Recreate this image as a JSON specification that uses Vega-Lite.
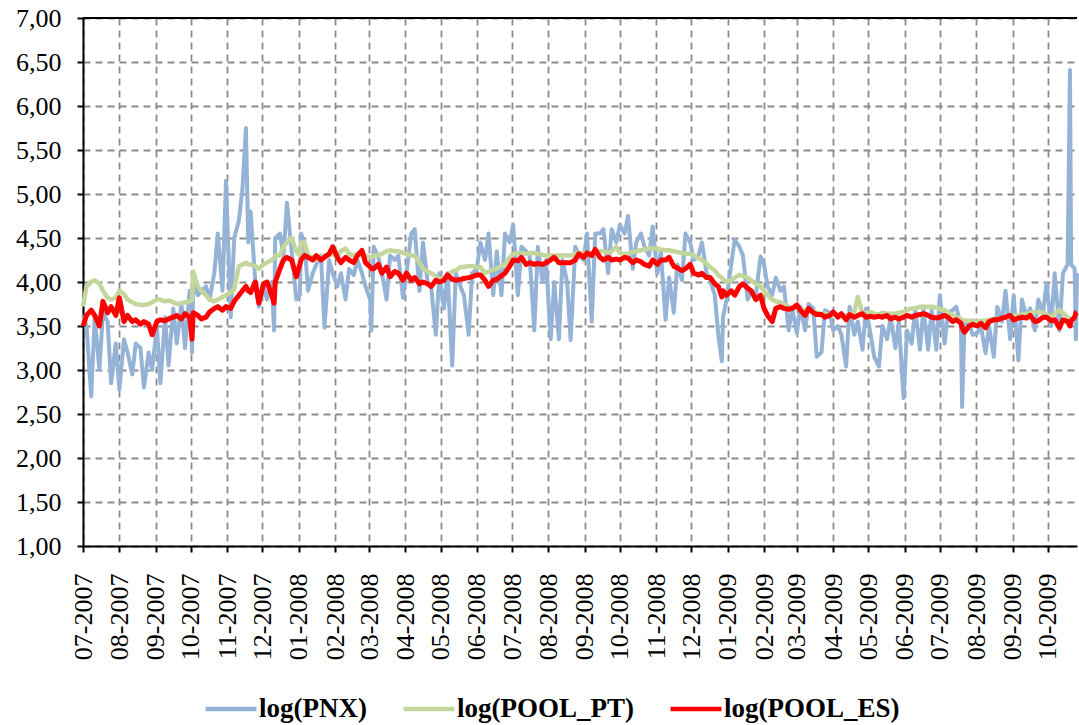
{
  "$schema": "https://vega.github.io/schema/vega-lite/v6.json",
  "width": 994,
  "height": 528,
  "autosize": {"type": "none"},
  "padding": {"left": 83, "top": 18, "right": 2, "bottom": 179},
  "background": "white",
  "config": {
    "font": "Liberation Serif",
    "view": {"stroke": null},
    "axis": {
      "labelFont": "Liberation Serif",
      "labelFontSize": 26,
      "labelColor": "black",
      "domainColor": "black",
      "domainWidth": 2,
      "tickColor": "black",
      "tickWidth": 2,
      "tickSize": 6,
      "gridColor": "#8c8c8c",
      "gridDash": [7, 5],
      "gridWidth": 1.8,
      "title": null
    }
  },
  "data": {
    "values": [
      {"date": "2007-07-01", "PNX": 3.62, "POOL_PT": 3.72, "POOL_ES": 3.50},
      {"date": "2007-07-04", "PNX": 3.50, "POOL_PT": 3.95, "POOL_ES": 3.62},
      {"date": "2007-07-08", "PNX": 2.70, "POOL_PT": 4.00, "POOL_ES": 3.68},
      {"date": "2007-07-11", "PNX": 3.60, "POOL_PT": 4.02, "POOL_ES": 3.62},
      {"date": "2007-07-15", "PNX": 3.00, "POOL_PT": 3.98, "POOL_ES": 3.50},
      {"date": "2007-07-18", "PNX": 3.65, "POOL_PT": 3.90, "POOL_ES": 3.78},
      {"date": "2007-07-22", "PNX": 3.55, "POOL_PT": 3.82, "POOL_ES": 3.65},
      {"date": "2007-07-25", "PNX": 2.85, "POOL_PT": 3.80, "POOL_ES": 3.72},
      {"date": "2007-07-29", "PNX": 3.30, "POOL_PT": 3.82, "POOL_ES": 3.62},
      {"date": "2007-08-01", "PNX": 2.78, "POOL_PT": 3.90, "POOL_ES": 3.82},
      {"date": "2007-08-05", "PNX": 3.35, "POOL_PT": 3.86, "POOL_ES": 3.55},
      {"date": "2007-08-08", "PNX": 3.20, "POOL_PT": 3.80, "POOL_ES": 3.62},
      {"date": "2007-08-12", "PNX": 2.95, "POOL_PT": 3.77, "POOL_ES": 3.55},
      {"date": "2007-08-15", "PNX": 3.30, "POOL_PT": 3.75, "POOL_ES": 3.57},
      {"date": "2007-08-19", "PNX": 3.25, "POOL_PT": 3.74, "POOL_ES": 3.52},
      {"date": "2007-08-22", "PNX": 2.80, "POOL_PT": 3.74, "POOL_ES": 3.55},
      {"date": "2007-08-26", "PNX": 3.20, "POOL_PT": 3.75, "POOL_ES": 3.52},
      {"date": "2007-08-29", "PNX": 3.00, "POOL_PT": 3.77, "POOL_ES": 3.40},
      {"date": "2007-09-02", "PNX": 3.50, "POOL_PT": 3.80, "POOL_ES": 3.55},
      {"date": "2007-09-05", "PNX": 2.85, "POOL_PT": 3.80, "POOL_ES": 3.57},
      {"date": "2007-09-09", "PNX": 3.60, "POOL_PT": 3.78, "POOL_ES": 3.56},
      {"date": "2007-09-12", "PNX": 3.05, "POOL_PT": 3.79, "POOL_ES": 3.58},
      {"date": "2007-09-16", "PNX": 3.70, "POOL_PT": 3.77, "POOL_ES": 3.60},
      {"date": "2007-09-19", "PNX": 3.30, "POOL_PT": 3.75, "POOL_ES": 3.62},
      {"date": "2007-09-23", "PNX": 3.75, "POOL_PT": 3.76, "POOL_ES": 3.58},
      {"date": "2007-09-26", "PNX": 3.25, "POOL_PT": 3.77, "POOL_ES": 3.64},
      {"date": "2007-09-30", "PNX": 3.90, "POOL_PT": 3.78, "POOL_ES": 3.60},
      {"date": "2007-10-02", "PNX": 3.20, "POOL_PT": 3.80, "POOL_ES": 3.35},
      {"date": "2007-10-03", "PNX": 4.00, "POOL_PT": 4.12, "POOL_ES": 3.65},
      {"date": "2007-10-07", "PNX": 3.85, "POOL_PT": 3.95, "POOL_ES": 3.62},
      {"date": "2007-10-10", "PNX": 3.90, "POOL_PT": 3.90, "POOL_ES": 3.58},
      {"date": "2007-10-14", "PNX": 3.95, "POOL_PT": 3.85, "POOL_ES": 3.60},
      {"date": "2007-10-17", "PNX": 3.80, "POOL_PT": 3.80, "POOL_ES": 3.66},
      {"date": "2007-10-21", "PNX": 4.10, "POOL_PT": 3.78, "POOL_ES": 3.70},
      {"date": "2007-10-24", "PNX": 4.55, "POOL_PT": 3.80, "POOL_ES": 3.72},
      {"date": "2007-10-28", "PNX": 3.90, "POOL_PT": 3.83, "POOL_ES": 3.68},
      {"date": "2007-10-31", "PNX": 5.15, "POOL_PT": 3.85, "POOL_ES": 3.72},
      {"date": "2007-11-04", "PNX": 3.60, "POOL_PT": 3.88, "POOL_ES": 3.70},
      {"date": "2007-11-07", "PNX": 4.50, "POOL_PT": 3.92, "POOL_ES": 3.78},
      {"date": "2007-11-11", "PNX": 4.70, "POOL_PT": 4.18, "POOL_ES": 3.85},
      {"date": "2007-11-14", "PNX": 5.05, "POOL_PT": 4.20, "POOL_ES": 3.90},
      {"date": "2007-11-17", "PNX": 5.75, "POOL_PT": 4.22, "POOL_ES": 3.95},
      {"date": "2007-11-19", "PNX": 4.45, "POOL_PT": 4.20, "POOL_ES": 3.90},
      {"date": "2007-11-21", "PNX": 4.80, "POOL_PT": 4.20, "POOL_ES": 3.88},
      {"date": "2007-11-25", "PNX": 4.00, "POOL_PT": 4.18, "POOL_ES": 4.00},
      {"date": "2007-11-28", "PNX": 3.72, "POOL_PT": 4.15, "POOL_ES": 3.76},
      {"date": "2007-12-02", "PNX": 3.95, "POOL_PT": 4.20, "POOL_ES": 3.98},
      {"date": "2007-12-05", "PNX": 3.80, "POOL_PT": 4.22, "POOL_ES": 4.00},
      {"date": "2007-12-09", "PNX": 4.00, "POOL_PT": 4.25, "POOL_ES": 3.85},
      {"date": "2007-12-11", "PNX": 3.45, "POOL_PT": 4.27, "POOL_ES": 3.76},
      {"date": "2007-12-12", "PNX": 4.50, "POOL_PT": 4.30, "POOL_ES": 4.00},
      {"date": "2007-12-16", "PNX": 4.55, "POOL_PT": 4.30, "POOL_ES": 4.15},
      {"date": "2007-12-19", "PNX": 4.30, "POOL_PT": 4.40, "POOL_ES": 4.25},
      {"date": "2007-12-22", "PNX": 4.90, "POOL_PT": 4.45, "POOL_ES": 4.28},
      {"date": "2007-12-26", "PNX": 4.35, "POOL_PT": 4.50, "POOL_ES": 4.25},
      {"date": "2007-12-30", "PNX": 3.80, "POOL_PT": 4.35, "POOL_ES": 4.06},
      {"date": "2008-01-02", "PNX": 3.85, "POOL_PT": 4.30, "POOL_ES": 4.20},
      {"date": "2008-01-03", "PNX": 4.55, "POOL_PT": 4.45, "POOL_ES": 4.25},
      {"date": "2008-01-06", "PNX": 4.45, "POOL_PT": 4.45, "POOL_ES": 4.30},
      {"date": "2008-01-09", "PNX": 3.90, "POOL_PT": 4.30, "POOL_ES": 4.28},
      {"date": "2008-01-13", "PNX": 4.10, "POOL_PT": 4.28, "POOL_ES": 4.25},
      {"date": "2008-01-16", "PNX": 4.20, "POOL_PT": 4.25, "POOL_ES": 4.30},
      {"date": "2008-01-20", "PNX": 4.30, "POOL_PT": 4.28, "POOL_ES": 4.25},
      {"date": "2008-01-23", "PNX": 3.48, "POOL_PT": 4.30, "POOL_ES": 4.28},
      {"date": "2008-01-27", "PNX": 4.25, "POOL_PT": 4.30, "POOL_ES": 4.32},
      {"date": "2008-01-30", "PNX": 4.10, "POOL_PT": 4.32, "POOL_ES": 4.40},
      {"date": "2008-02-03", "PNX": 3.95, "POOL_PT": 4.30, "POOL_ES": 4.28},
      {"date": "2008-02-06", "PNX": 4.10, "POOL_PT": 4.35, "POOL_ES": 4.22},
      {"date": "2008-02-10", "PNX": 3.80, "POOL_PT": 4.38, "POOL_ES": 4.28},
      {"date": "2008-02-13", "PNX": 4.15, "POOL_PT": 4.32, "POOL_ES": 4.25},
      {"date": "2008-02-17", "PNX": 4.08, "POOL_PT": 4.30, "POOL_ES": 4.22},
      {"date": "2008-02-20", "PNX": 4.25, "POOL_PT": 4.32, "POOL_ES": 4.30},
      {"date": "2008-02-24", "PNX": 4.10, "POOL_PT": 4.30, "POOL_ES": 4.36},
      {"date": "2008-02-27", "PNX": 3.95, "POOL_PT": 4.30, "POOL_ES": 4.22},
      {"date": "2008-03-02", "PNX": 3.80, "POOL_PT": 4.28, "POOL_ES": 4.17},
      {"date": "2008-03-03", "PNX": 3.45, "POOL_PT": 4.28, "POOL_ES": 4.15},
      {"date": "2008-03-05", "PNX": 4.40, "POOL_PT": 4.30, "POOL_ES": 4.15},
      {"date": "2008-03-09", "PNX": 4.28, "POOL_PT": 4.30, "POOL_ES": 4.20},
      {"date": "2008-03-12", "PNX": 4.10, "POOL_PT": 4.32, "POOL_ES": 4.10},
      {"date": "2008-03-16", "PNX": 3.80, "POOL_PT": 4.35, "POOL_ES": 4.17},
      {"date": "2008-03-19", "PNX": 4.30, "POOL_PT": 4.36, "POOL_ES": 4.06},
      {"date": "2008-03-23", "PNX": 4.25, "POOL_PT": 4.35, "POOL_ES": 4.12},
      {"date": "2008-03-26", "PNX": 4.30, "POOL_PT": 4.35, "POOL_ES": 4.10},
      {"date": "2008-03-30", "PNX": 3.82, "POOL_PT": 4.33, "POOL_ES": 4.02},
      {"date": "2008-04-02", "PNX": 4.10, "POOL_PT": 4.32, "POOL_ES": 4.10},
      {"date": "2008-04-06", "PNX": 4.55, "POOL_PT": 4.30, "POOL_ES": 4.02},
      {"date": "2008-04-09", "PNX": 4.60, "POOL_PT": 4.30, "POOL_ES": 4.05},
      {"date": "2008-04-13", "PNX": 3.90, "POOL_PT": 4.22, "POOL_ES": 3.98},
      {"date": "2008-04-16", "PNX": 4.45, "POOL_PT": 4.15, "POOL_ES": 4.00},
      {"date": "2008-04-20", "PNX": 4.00, "POOL_PT": 4.12, "POOL_ES": 3.98},
      {"date": "2008-04-23", "PNX": 3.95, "POOL_PT": 4.10, "POOL_ES": 3.95},
      {"date": "2008-04-27", "PNX": 3.40, "POOL_PT": 4.07, "POOL_ES": 4.02},
      {"date": "2008-04-30", "PNX": 4.10, "POOL_PT": 4.02, "POOL_ES": 4.00},
      {"date": "2008-05-04", "PNX": 3.70, "POOL_PT": 4.05, "POOL_ES": 4.02},
      {"date": "2008-05-07", "PNX": 4.10, "POOL_PT": 4.08, "POOL_ES": 4.08},
      {"date": "2008-05-11", "PNX": 3.05, "POOL_PT": 4.12, "POOL_ES": 4.03},
      {"date": "2008-05-14", "PNX": 4.10, "POOL_PT": 4.13, "POOL_ES": 4.02},
      {"date": "2008-05-18", "PNX": 3.95, "POOL_PT": 4.17, "POOL_ES": 4.03},
      {"date": "2008-05-21", "PNX": 3.85, "POOL_PT": 4.17, "POOL_ES": 4.04},
      {"date": "2008-05-25", "PNX": 3.40, "POOL_PT": 4.18, "POOL_ES": 4.05},
      {"date": "2008-05-28", "PNX": 4.10, "POOL_PT": 4.18, "POOL_ES": 4.06},
      {"date": "2008-06-01", "PNX": 4.15, "POOL_PT": 4.17, "POOL_ES": 4.08},
      {"date": "2008-06-04", "PNX": 4.45, "POOL_PT": 4.17, "POOL_ES": 4.08},
      {"date": "2008-06-08", "PNX": 4.25, "POOL_PT": 4.10, "POOL_ES": 4.02},
      {"date": "2008-06-11", "PNX": 4.55, "POOL_PT": 4.12, "POOL_ES": 3.95},
      {"date": "2008-06-15", "PNX": 3.85, "POOL_PT": 4.14, "POOL_ES": 4.02},
      {"date": "2008-06-18", "PNX": 4.35, "POOL_PT": 4.15, "POOL_ES": 4.03},
      {"date": "2008-06-22", "PNX": 3.85, "POOL_PT": 4.18, "POOL_ES": 4.07},
      {"date": "2008-06-25", "PNX": 4.55, "POOL_PT": 4.20, "POOL_ES": 4.10},
      {"date": "2008-06-29", "PNX": 4.45, "POOL_PT": 4.28, "POOL_ES": 4.18},
      {"date": "2008-07-02", "PNX": 4.65, "POOL_PT": 4.32, "POOL_ES": 4.25},
      {"date": "2008-07-06", "PNX": 3.85, "POOL_PT": 4.33, "POOL_ES": 4.24},
      {"date": "2008-07-09", "PNX": 4.40, "POOL_PT": 4.33, "POOL_ES": 4.28},
      {"date": "2008-07-13", "PNX": 4.35, "POOL_PT": 4.32, "POOL_ES": 4.20},
      {"date": "2008-07-16", "PNX": 4.30, "POOL_PT": 4.33, "POOL_ES": 4.22},
      {"date": "2008-07-20", "PNX": 3.45, "POOL_PT": 4.33, "POOL_ES": 4.20},
      {"date": "2008-07-23", "PNX": 4.40, "POOL_PT": 4.32, "POOL_ES": 4.21},
      {"date": "2008-07-27", "PNX": 4.00, "POOL_PT": 4.31, "POOL_ES": 4.20},
      {"date": "2008-07-30", "PNX": 4.25, "POOL_PT": 4.30, "POOL_ES": 4.22},
      {"date": "2008-08-03", "PNX": 3.35, "POOL_PT": 4.30, "POOL_ES": 4.25},
      {"date": "2008-08-06", "PNX": 4.00, "POOL_PT": 4.30, "POOL_ES": 4.28},
      {"date": "2008-08-10", "PNX": 3.35, "POOL_PT": 4.30, "POOL_ES": 4.22},
      {"date": "2008-08-13", "PNX": 4.25, "POOL_PT": 4.30, "POOL_ES": 4.22},
      {"date": "2008-08-17", "PNX": 4.00, "POOL_PT": 4.30, "POOL_ES": 4.22},
      {"date": "2008-08-20", "PNX": 3.34, "POOL_PT": 4.30, "POOL_ES": 4.22},
      {"date": "2008-08-24", "PNX": 4.40, "POOL_PT": 4.32, "POOL_ES": 4.25},
      {"date": "2008-08-27", "PNX": 4.30, "POOL_PT": 4.33, "POOL_ES": 4.32},
      {"date": "2008-08-31", "PNX": 4.25, "POOL_PT": 4.33, "POOL_ES": 4.28},
      {"date": "2008-09-03", "PNX": 4.55, "POOL_PT": 4.32, "POOL_ES": 4.33},
      {"date": "2008-09-07", "PNX": 3.55, "POOL_PT": 4.33, "POOL_ES": 4.30},
      {"date": "2008-09-10", "PNX": 4.55, "POOL_PT": 4.33, "POOL_ES": 4.37},
      {"date": "2008-09-14", "PNX": 4.55, "POOL_PT": 4.35, "POOL_ES": 4.28},
      {"date": "2008-09-17", "PNX": 4.60, "POOL_PT": 4.35, "POOL_ES": 4.25},
      {"date": "2008-09-21", "PNX": 4.10, "POOL_PT": 4.33, "POOL_ES": 4.28},
      {"date": "2008-09-24", "PNX": 4.60, "POOL_PT": 4.35, "POOL_ES": 4.25},
      {"date": "2008-09-28", "PNX": 4.45, "POOL_PT": 4.40, "POOL_ES": 4.26},
      {"date": "2008-10-01", "PNX": 4.65, "POOL_PT": 4.33, "POOL_ES": 4.25},
      {"date": "2008-10-05", "PNX": 4.55, "POOL_PT": 4.32, "POOL_ES": 4.28},
      {"date": "2008-10-08", "PNX": 4.75, "POOL_PT": 4.32, "POOL_ES": 4.27},
      {"date": "2008-10-12", "PNX": 4.15, "POOL_PT": 4.34, "POOL_ES": 4.22},
      {"date": "2008-10-15", "PNX": 4.45, "POOL_PT": 4.35, "POOL_ES": 4.25},
      {"date": "2008-10-19", "PNX": 4.55, "POOL_PT": 4.36, "POOL_ES": 4.23},
      {"date": "2008-10-22", "PNX": 4.40, "POOL_PT": 4.37, "POOL_ES": 4.20},
      {"date": "2008-10-26", "PNX": 4.30, "POOL_PT": 4.38, "POOL_ES": 4.18},
      {"date": "2008-10-29", "PNX": 4.63, "POOL_PT": 4.38, "POOL_ES": 4.25},
      {"date": "2008-11-02", "PNX": 4.10, "POOL_PT": 4.38, "POOL_ES": 4.20},
      {"date": "2008-11-05", "PNX": 4.35, "POOL_PT": 4.37, "POOL_ES": 4.25},
      {"date": "2008-11-09", "PNX": 3.57, "POOL_PT": 4.36, "POOL_ES": 4.25},
      {"date": "2008-11-12", "PNX": 4.05, "POOL_PT": 4.36, "POOL_ES": 4.28},
      {"date": "2008-11-16", "PNX": 3.65, "POOL_PT": 4.35, "POOL_ES": 4.18},
      {"date": "2008-11-19", "PNX": 4.20, "POOL_PT": 4.34, "POOL_ES": 4.16},
      {"date": "2008-11-23", "PNX": 4.02, "POOL_PT": 4.33, "POOL_ES": 4.13},
      {"date": "2008-11-26", "PNX": 4.55, "POOL_PT": 4.32, "POOL_ES": 4.15},
      {"date": "2008-11-30", "PNX": 4.45, "POOL_PT": 4.32, "POOL_ES": 4.20},
      {"date": "2008-12-03", "PNX": 4.25, "POOL_PT": 4.30, "POOL_ES": 4.10},
      {"date": "2008-12-07", "PNX": 4.30, "POOL_PT": 4.27, "POOL_ES": 4.08},
      {"date": "2008-12-10", "PNX": 4.45, "POOL_PT": 4.25, "POOL_ES": 4.10},
      {"date": "2008-12-14", "PNX": 4.10, "POOL_PT": 4.21, "POOL_ES": 4.05},
      {"date": "2008-12-17", "PNX": 4.02, "POOL_PT": 4.17, "POOL_ES": 4.05},
      {"date": "2008-12-21", "PNX": 3.85, "POOL_PT": 4.13, "POOL_ES": 3.98},
      {"date": "2008-12-24", "PNX": 3.40, "POOL_PT": 4.08, "POOL_ES": 3.95},
      {"date": "2008-12-27", "PNX": 3.10, "POOL_PT": 4.05, "POOL_ES": 3.83},
      {"date": "2008-12-28", "PNX": 3.60, "POOL_PT": 4.03, "POOL_ES": 3.90},
      {"date": "2008-12-31", "PNX": 3.80, "POOL_PT": 4.00, "POOL_ES": 3.85},
      {"date": "2009-01-04", "PNX": 4.20, "POOL_PT": 4.02, "POOL_ES": 3.90},
      {"date": "2009-01-07", "PNX": 4.48, "POOL_PT": 4.05, "POOL_ES": 3.85},
      {"date": "2009-01-11", "PNX": 4.40, "POOL_PT": 4.08, "POOL_ES": 3.95},
      {"date": "2009-01-14", "PNX": 4.30, "POOL_PT": 4.07, "POOL_ES": 3.98},
      {"date": "2009-01-18", "PNX": 3.80, "POOL_PT": 4.05, "POOL_ES": 3.93},
      {"date": "2009-01-21", "PNX": 3.90, "POOL_PT": 4.02, "POOL_ES": 3.90},
      {"date": "2009-01-25", "PNX": 3.85, "POOL_PT": 3.98, "POOL_ES": 3.80},
      {"date": "2009-01-29", "PNX": 4.29, "POOL_PT": 3.95, "POOL_ES": 3.85},
      {"date": "2009-02-01", "PNX": 4.20, "POOL_PT": 3.90, "POOL_ES": 3.70},
      {"date": "2009-02-04", "PNX": 3.95, "POOL_PT": 3.85, "POOL_ES": 3.62},
      {"date": "2009-02-08", "PNX": 3.85, "POOL_PT": 3.80, "POOL_ES": 3.55},
      {"date": "2009-02-11", "PNX": 4.05, "POOL_PT": 3.78, "POOL_ES": 3.70},
      {"date": "2009-02-15", "PNX": 3.90, "POOL_PT": 3.77, "POOL_ES": 3.72},
      {"date": "2009-02-18", "PNX": 3.95, "POOL_PT": 3.75, "POOL_ES": 3.70},
      {"date": "2009-02-22", "PNX": 3.45, "POOL_PT": 3.72, "POOL_ES": 3.69},
      {"date": "2009-02-25", "PNX": 3.70, "POOL_PT": 3.71, "POOL_ES": 3.70},
      {"date": "2009-03-01", "PNX": 3.42, "POOL_PT": 3.70, "POOL_ES": 3.74},
      {"date": "2009-03-04", "PNX": 3.72, "POOL_PT": 3.69, "POOL_ES": 3.68},
      {"date": "2009-03-08", "PNX": 3.45, "POOL_PT": 3.68, "POOL_ES": 3.62},
      {"date": "2009-03-11", "PNX": 3.75, "POOL_PT": 3.67, "POOL_ES": 3.70},
      {"date": "2009-03-15", "PNX": 3.70, "POOL_PT": 3.66, "POOL_ES": 3.65},
      {"date": "2009-03-18", "PNX": 3.15, "POOL_PT": 3.65, "POOL_ES": 3.63},
      {"date": "2009-03-22", "PNX": 3.20, "POOL_PT": 3.64, "POOL_ES": 3.63},
      {"date": "2009-03-25", "PNX": 3.68, "POOL_PT": 3.64, "POOL_ES": 3.60},
      {"date": "2009-03-29", "PNX": 3.65, "POOL_PT": 3.62, "POOL_ES": 3.62},
      {"date": "2009-04-01", "PNX": 3.45, "POOL_PT": 3.63, "POOL_ES": 3.66},
      {"date": "2009-04-05", "PNX": 3.50, "POOL_PT": 3.63, "POOL_ES": 3.60},
      {"date": "2009-04-08", "PNX": 3.40, "POOL_PT": 3.62, "POOL_ES": 3.64},
      {"date": "2009-04-12", "PNX": 3.04, "POOL_PT": 3.62, "POOL_ES": 3.57},
      {"date": "2009-04-15", "PNX": 3.72, "POOL_PT": 3.63, "POOL_ES": 3.63},
      {"date": "2009-04-19", "PNX": 3.40, "POOL_PT": 3.66, "POOL_ES": 3.60},
      {"date": "2009-04-22", "PNX": 3.55, "POOL_PT": 3.83, "POOL_ES": 3.62},
      {"date": "2009-04-26", "PNX": 3.23, "POOL_PT": 3.64, "POOL_ES": 3.64},
      {"date": "2009-04-29", "PNX": 3.70, "POOL_PT": 3.65, "POOL_ES": 3.60},
      {"date": "2009-05-03", "PNX": 3.40, "POOL_PT": 3.66, "POOL_ES": 3.61},
      {"date": "2009-05-06", "PNX": 3.15, "POOL_PT": 3.64, "POOL_ES": 3.60},
      {"date": "2009-05-10", "PNX": 3.04, "POOL_PT": 3.63, "POOL_ES": 3.61},
      {"date": "2009-05-13", "PNX": 3.50, "POOL_PT": 3.65, "POOL_ES": 3.60},
      {"date": "2009-05-17", "PNX": 3.35, "POOL_PT": 3.64, "POOL_ES": 3.62},
      {"date": "2009-05-20", "PNX": 3.60, "POOL_PT": 3.64, "POOL_ES": 3.58},
      {"date": "2009-05-24", "PNX": 3.25, "POOL_PT": 3.64, "POOL_ES": 3.60},
      {"date": "2009-05-27", "PNX": 3.55, "POOL_PT": 3.65, "POOL_ES": 3.58},
      {"date": "2009-05-31", "PNX": 2.68, "POOL_PT": 3.66, "POOL_ES": 3.60},
      {"date": "2009-06-03", "PNX": 3.45, "POOL_PT": 3.68, "POOL_ES": 3.62},
      {"date": "2009-06-07", "PNX": 3.30, "POOL_PT": 3.70, "POOL_ES": 3.60},
      {"date": "2009-06-10", "PNX": 3.70, "POOL_PT": 3.70, "POOL_ES": 3.62},
      {"date": "2009-06-14", "PNX": 3.23, "POOL_PT": 3.72, "POOL_ES": 3.63},
      {"date": "2009-06-17", "PNX": 3.70, "POOL_PT": 3.72, "POOL_ES": 3.64},
      {"date": "2009-06-21", "PNX": 3.23, "POOL_PT": 3.72, "POOL_ES": 3.62},
      {"date": "2009-06-24", "PNX": 3.68, "POOL_PT": 3.72, "POOL_ES": 3.60},
      {"date": "2009-06-28", "PNX": 3.23, "POOL_PT": 3.71, "POOL_ES": 3.59},
      {"date": "2009-07-01", "PNX": 3.85, "POOL_PT": 3.69, "POOL_ES": 3.60},
      {"date": "2009-07-05", "PNX": 3.30, "POOL_PT": 3.68, "POOL_ES": 3.62},
      {"date": "2009-07-08", "PNX": 3.65, "POOL_PT": 3.65, "POOL_ES": 3.60},
      {"date": "2009-07-12", "PNX": 3.68, "POOL_PT": 3.63, "POOL_ES": 3.55},
      {"date": "2009-07-15", "PNX": 3.72, "POOL_PT": 3.60, "POOL_ES": 3.57},
      {"date": "2009-07-19", "PNX": 3.50, "POOL_PT": 3.58, "POOL_ES": 3.53},
      {"date": "2009-07-20", "PNX": 2.58, "POOL_PT": 3.57, "POOL_ES": 3.48},
      {"date": "2009-07-22", "PNX": 3.52, "POOL_PT": 3.56, "POOL_ES": 3.43},
      {"date": "2009-07-26", "PNX": 3.52, "POOL_PT": 3.56, "POOL_ES": 3.50},
      {"date": "2009-07-29", "PNX": 3.40, "POOL_PT": 3.56, "POOL_ES": 3.52},
      {"date": "2009-08-02", "PNX": 3.42, "POOL_PT": 3.55, "POOL_ES": 3.50},
      {"date": "2009-08-05", "PNX": 3.50, "POOL_PT": 3.56, "POOL_ES": 3.53},
      {"date": "2009-08-09", "PNX": 3.19, "POOL_PT": 3.56, "POOL_ES": 3.48},
      {"date": "2009-08-12", "PNX": 3.50, "POOL_PT": 3.57, "POOL_ES": 3.55},
      {"date": "2009-08-16", "PNX": 3.15, "POOL_PT": 3.58, "POOL_ES": 3.57},
      {"date": "2009-08-19", "PNX": 3.72, "POOL_PT": 3.58, "POOL_ES": 3.57},
      {"date": "2009-08-23", "PNX": 3.55, "POOL_PT": 3.59, "POOL_ES": 3.59},
      {"date": "2009-08-26", "PNX": 3.90, "POOL_PT": 3.60, "POOL_ES": 3.60},
      {"date": "2009-08-30", "PNX": 3.35, "POOL_PT": 3.60, "POOL_ES": 3.62},
      {"date": "2009-09-02", "PNX": 3.85, "POOL_PT": 3.62, "POOL_ES": 3.57},
      {"date": "2009-09-06", "PNX": 3.11, "POOL_PT": 3.62, "POOL_ES": 3.59},
      {"date": "2009-09-09", "PNX": 3.80, "POOL_PT": 3.63, "POOL_ES": 3.60},
      {"date": "2009-09-13", "PNX": 3.60, "POOL_PT": 3.64, "POOL_ES": 3.59},
      {"date": "2009-09-16", "PNX": 3.70, "POOL_PT": 3.65, "POOL_ES": 3.62},
      {"date": "2009-09-20", "PNX": 3.45, "POOL_PT": 3.66, "POOL_ES": 3.55},
      {"date": "2009-09-23", "PNX": 3.80, "POOL_PT": 3.66, "POOL_ES": 3.56},
      {"date": "2009-09-27", "PNX": 3.65, "POOL_PT": 3.65, "POOL_ES": 3.60},
      {"date": "2009-09-30", "PNX": 3.98, "POOL_PT": 3.63, "POOL_ES": 3.60},
      {"date": "2009-10-04", "PNX": 3.50, "POOL_PT": 3.60, "POOL_ES": 3.56},
      {"date": "2009-10-07", "PNX": 4.10, "POOL_PT": 3.64, "POOL_ES": 3.57},
      {"date": "2009-10-11", "PNX": 3.45, "POOL_PT": 3.68, "POOL_ES": 3.48},
      {"date": "2009-10-14", "PNX": 4.10, "POOL_PT": 3.65, "POOL_ES": 3.57},
      {"date": "2009-10-18", "PNX": 4.20, "POOL_PT": 3.60, "POOL_ES": 3.55},
      {"date": "2009-10-20", "PNX": 6.41, "POOL_PT": 3.58, "POOL_ES": 3.50},
      {"date": "2009-10-21", "PNX": 4.20, "POOL_PT": 3.58, "POOL_ES": 3.56},
      {"date": "2009-10-24", "PNX": 4.15, "POOL_PT": 3.60, "POOL_ES": 3.60},
      {"date": "2009-10-25", "PNX": 3.35, "POOL_PT": 3.62, "POOL_ES": 3.65},
      {"date": "2009-10-26", "PNX": 4.10, "POOL_PT": 3.65, "POOL_ES": 3.66}
    ]
  },
  "transform": [
    {"fold": ["PNX", "POOL_PT", "POOL_ES"], "as": ["series", "value"]}
  ],
  "layer": [
    {
      "transform": [{"filter": "datum.series === 'PNX'"}],
      "mark": {"type": "line", "strokeWidth": 4, "strokeJoin": "round"},
      "encoding": {
        "x": {
          "field": "date", "type": "temporal",
          "scale": {"type": "utc", "nice": false, "domain": [{"year": 2007, "month": 7, "date": 1, "utc": true}, {"year": 2009, "month": 10, "date": 26, "utc": true}]},
          "axis": {"labelExpr": "utcFormat(datum.value, '%m-%Y')", "tickCount": {"interval": "month", "step": 1}, "labelAngle": -90, "labelPadding": 21, "labelOverlap": false, "labelFlush": false, "labelBound": false}
        },
        "y": {
          "field": "value", "type": "quantitative",
          "scale": {"domain": [1, 7], "nice": false, "zero": false},
          "axis": {"values": [1, 1.5, 2, 2.5, 3, 3.5, 4, 4.5, 5, 5.5, 6, 6.5, 7], "labelExpr": "replace(format(datum.value, '.2f'), '.', ',')", "labelPadding": 16}
        },
        "color": {
          "field": "series", "type": "nominal",
          "scale": {"domain": ["PNX", "POOL_PT", "POOL_ES"], "range": ["#95b3d7", "#c3d69b", "#ff0000"]},
          "legend": {
            "orient": "none", "legendX": 120, "legendY": 663, "direction": "horizontal", "title": null,
            "symbolType": "stroke", "symbolSize": 2601, "symbolStrokeWidth": 4.5,
            "labelFont": "Liberation Serif", "labelFontSize": 27, "labelFontWeight": "bold", "labelColor": "black",
            "labelOffset": 0, "columnPadding": 27, "labelLimit": 400,
            "labelExpr": "'log(' + datum.label + ')'"
          }
        }
      }
    },
    {
      "transform": [{"filter": "datum.series === 'POOL_PT'"}],
      "mark": {"type": "line", "strokeWidth": 4.5, "strokeJoin": "round"},
      "encoding": {
        "x": {"field": "date", "type": "temporal"},
        "y": {"field": "value", "type": "quantitative"},
        "color": {"field": "series", "type": "nominal"}
      }
    },
    {
      "transform": [{"filter": "datum.series === 'POOL_ES'"}],
      "mark": {"type": "line", "strokeWidth": 5, "strokeJoin": "round"},
      "encoding": {
        "x": {"field": "date", "type": "temporal"},
        "y": {"field": "value", "type": "quantitative"},
        "color": {"field": "series", "type": "nominal"}
      }
    },
    {
      "data": {"values": [{"top": 7}]},
      "mark": {"type": "rule", "color": "black", "strokeWidth": 2},
      "encoding": {"y": {"field": "top", "type": "quantitative"}}
    }
  ]
}
